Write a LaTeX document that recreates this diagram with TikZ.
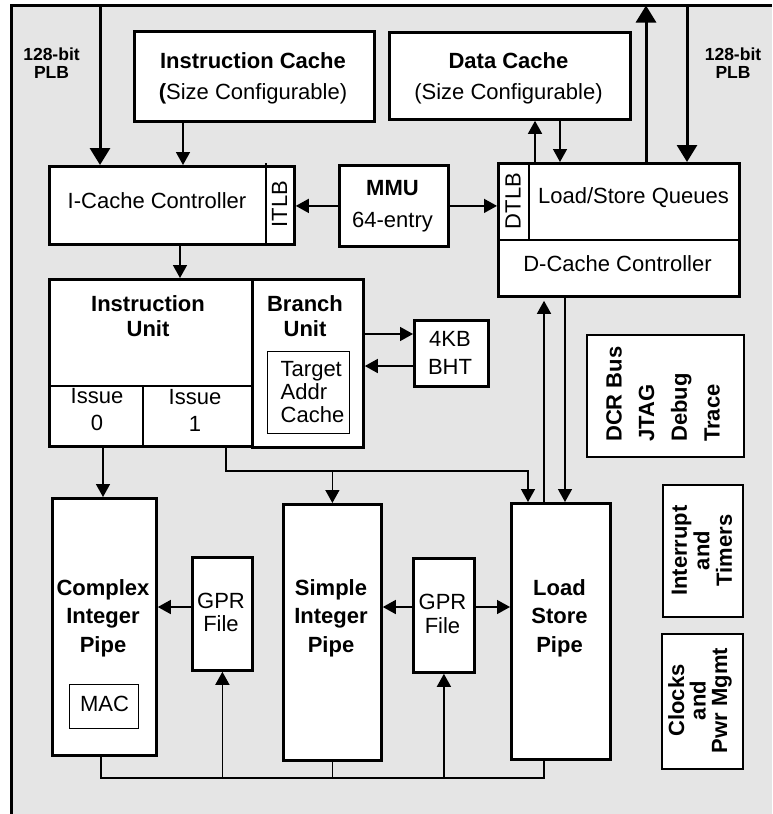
\documentclass[tikz,border=0pt]{standalone}
\usepackage{fontspec}
\setmainfont{Liberation Sans}
\usetikzlibrary{arrows.meta,calc}
\definecolor{bggray}{RGB}{229,229,229}
\begin{document}
\begin{tikzpicture}[x=1pt,y=-1pt,
  box/.style={draw, line width=2.8pt, fill=white, inner sep=0pt, anchor=north west},
  thinbox/.style={box, line width=1.3pt},
  medbox/.style={box, line width=1.8pt},
  conn/.style={line width=1.5pt, -{Triangle[length=13pt,width=14pt]}},
  wire/.style={line width=1.5pt},
  bus/.style={line width=3pt, -{Triangle[length=17pt,width=20pt]}},
  divider/.style={line width=2pt},
  lbl/.style={inner sep=0pt, align=center, font=\fontsize{22}{31}\selectfont},
  blbl/.style={lbl, font=\fontsize{22}{28.5}\selectfont\bfseries},
  plbl/.style={lbl, font=\fontsize{17.5}{18}\selectfont\bfseries},
]
\useasboundingbox (0,0) rectangle (772,814);
% frame
\fill[bggray] (11,5.5) rectangle (772,814);
\draw[line width=3pt] (11,814) -- (11,5.5) -- (772,5.5);

% helper coordinates
\coordinate (plbL) at (100,5.5);
\coordinate (plbR) at (687,5.5);
\coordinate (upR) at (646,5.5);
\coordinate (x183) at (183,0);
\coordinate (x180) at (180,0);
\coordinate (x535) at (535,0);
\coordinate (x560) at (560,0);
\coordinate (x544) at (544,0);
\coordinate (x565) at (565,0);
\coordinate (x226) at (226,0);
\coordinate (x528) at (528,0);
\coordinate (x101) at (101,0);
\coordinate (x103) at (103,0);
\coordinate (itlbx) at (266,0);
\coordinate (itlbtop) at (266,162.5);
\coordinate (dtlbx) at (529,0);
\coordinate (dccmid) at (0,240);
\coordinate (iumid) at (0,386);
\coordinate (issuex) at (143,0);
\coordinate (y334) at (0,334);
\coordinate (y366) at (0,366);
\coordinate (y471) at (0,471);
\coordinate (y607) at (0,607);
\coordinate (busy) at (0,778);

% boxes
\node[box, minimum width=240pt, minimum height=90pt] (ic) at (133,30) {};
\node[box, minimum width=241pt, minimum height=87pt] (dc) at (388,31) {};
\node[box, minimum width=245pt, minimum height=78pt] (icc) at (48,165) {};
\node[box, minimum width=109pt, minimum height=81pt] (mmu) at (338,164) {};
\node[box, minimum width=241pt, minimum height=133pt] (dcc) at (497,162) {};
\node[box, minimum width=203pt, minimum height=167pt] (iu) at (48,278) {};
\node[box, minimum width=111pt, minimum height=168pt] (bu) at (251,278) {};
\node[thinbox, minimum width=82pt, minimum height=82pt] (tac) at (267,351) {};
\node[box, minimum width=74pt, minimum height=66pt] (bht) at (413,319) {};
\node[box, minimum width=104pt, minimum height=257pt] (cip) at (51,497) {};
\node[box, minimum width=60pt, minimum height=113pt] (gpr1) at (191,556) {};
\node[box, minimum width=98pt, minimum height=256pt] (sip) at (282,503) {};
\node[box, minimum width=61pt, minimum height=114pt] (gpr2) at (412,557) {};
\node[box, minimum width=99pt, minimum height=256pt] (lsp) at (510,502) {};
\node[thinbox, minimum width=69pt, minimum height=44pt] (mac) at (69,684) {};
\node[medbox, minimum width=157pt, minimum height=122pt] (dcr) at (586,334) {};
\node[medbox, minimum width=80pt, minimum height=132pt] (irq) at (662,484) {};
\node[medbox, minimum width=81pt, minimum height=135pt] (clk) at (661,633) {};

% dividers
\draw[divider] (itlbx |- icc.south) -- (itlbtop);
\draw[divider] (dcc.west |- dccmid) -- (dcc.east |- dccmid);
\draw[divider] (dtlbx |- dcc.north) -- (dtlbx |- dccmid);
\draw[divider] (iu.west |- iumid) -- (iu.east |- iumid);
\draw[divider] (issuex |- iumid) -- (issuex |- iu.south);

% connectors
\draw[bus] (plbL) -- (plbL |- icc.north);
\draw[bus] (plbR) -- (plbR |- dcc.north);
\draw[bus] (upR |- dcc.north) -- (upR);
\draw[conn] (x183 |- ic.south) -- (x183 |- icc.north);
\draw[conn] (x180 |- icc.south) -- (x180 |- iu.north);
\draw[conn] (mmu.west) -- (mmu.west -| icc.east);
\draw[conn] (mmu.east) -- (mmu.east -| dcc.west);
\draw[conn] (x535 |- dcc.north) -- (x535 |- dc.south);
\draw[conn] (x560 |- dc.south) -- (x560 |- dcc.north);
\draw[conn] (bu.east |- y334) -- (bht.west |- y334);
\draw[conn] (bht.west |- y366) -- (bu.east |- y366);
\draw[conn] (x103 |- iu.south) -- (x103 |- cip.north);
\draw[conn] (x226 |- iu.south) -- (x226 |- y471) -- (x528 |- y471) -- (x528 |- lsp.north);
\draw[conn] (sip.north |- y471) -- (sip.north);
\draw[conn, shorten >=3pt] (x544 |- lsp.north) -- (x544 |- dcc.south);
\draw[conn] (x565 |- dcc.south) -- (x565 |- lsp.north);
\draw[conn] (gpr1.west |- y607) -- (cip.east |- y607);
\draw[conn] (gpr2.west |- y607) -- (sip.east |- y607);
\draw[conn] (gpr2.east |- y607) -- (lsp.west |- y607);
\draw[wire] (x101 |- cip.south) -- (x101 |- busy) -- (x544 |- busy) -- (x544 |- lsp.south);
\draw[wire] (sip.south) -- (sip.south |- busy);
\draw[conn] (gpr1.south |- busy) -- (gpr1.south);
\draw[conn] (gpr2.south |- busy) -- (gpr2.south);

% labels
\node[plbl] (plbltxt) at (51.5,63) {128-bit\\PLB};
\node[plbl] (plbrtxt) at (733,63) {128-bit\\PLB};
\node[lbl] (ictxt) at (253,78) {\textbf{Instruction Cache}\\\textbf{(}Size Configurable)};
\node[lbl] (dctxt) at (508.5,78) {\textbf{Data Cache}\\(Size Configurable)};
\node[lbl] (icctxt) at (157,201) {I-Cache Controller};
\node[lbl, rotate=90] (itlbtxt) at (279.5,204) {ITLB};
\node[lbl, font=\fontsize{22}{32}\selectfont] (mmutxt) at (392.5,206) {\textbf{MMU}\\64-entry};
\node[lbl, rotate=90] (dtlbtxt) at (513,201) {DTLB};
\node[lbl] (lsqtxt) at (633.5,198) {Load/Store Queues};
\node[lbl] (dcctxt) at (617.5,263.5) {D-Cache Controller};
\node[blbl, font=\fontsize{22}{25.5}\selectfont\bfseries] (iutxt) at (148,316) {Instruction\\Unit};
\node[blbl, font=\fontsize{22}{25.5}\selectfont\bfseries] (butxt) at (305,316) {Branch\\Unit};
\node[lbl, font=\fontsize{22}{27}\selectfont] (is0txt) at (97,410) {Issue\\0};
\node[lbl, font=\fontsize{22}{27}\selectfont] (is1txt) at (195,410) {Issue\\1};
\node[lbl, align=left, anchor=west, font=\fontsize{22}{23}\selectfont] (tactxt) at (280.5,392.5) {Target\\Addr\\Cache};
\node[lbl, font=\fontsize{22}{28.5}\selectfont] (bhttxt) at (450,353) {4KB\\BHT};
\node[blbl] (ciptxt) at (103,618) {Complex\\Integer\\Pipe};
\node[blbl] (siptxt) at (331,618) {Simple\\Integer\\Pipe};
\node[blbl] (lsptxt) at (559.5,618) {Load\\Store\\Pipe};
\node[lbl, font=\fontsize{22}{23.5}\selectfont] (gpr1txt) at (221,612.5) {GPR\\File};
\node[lbl, font=\fontsize{22}{23.5}\selectfont] (gpr2txt) at (442.5,614) {GPR\\File};
\node[lbl] (mactxt) at (104.5,704) {MAC};
\node[lbl, align=left, rotate=90, anchor=west, font=\fontsize{22}{32.7}\selectfont\bfseries] (dcrtxt) at (663,442) {DCR Bus\\JTAG\\Debug\\Trace};
\node[lbl, rotate=90, font=\fontsize{22}{22.5}\selectfont\bfseries] (irqtxt) at (702,550.5) {Interrupt\\and\\Timers};
\node[lbl, rotate=90, font=\fontsize{22}{21.5}\selectfont\bfseries] (clktxt) at (700,700.5) {Clocks\\and\\Pwr Mgmt};
\end{tikzpicture}
\end{document}
